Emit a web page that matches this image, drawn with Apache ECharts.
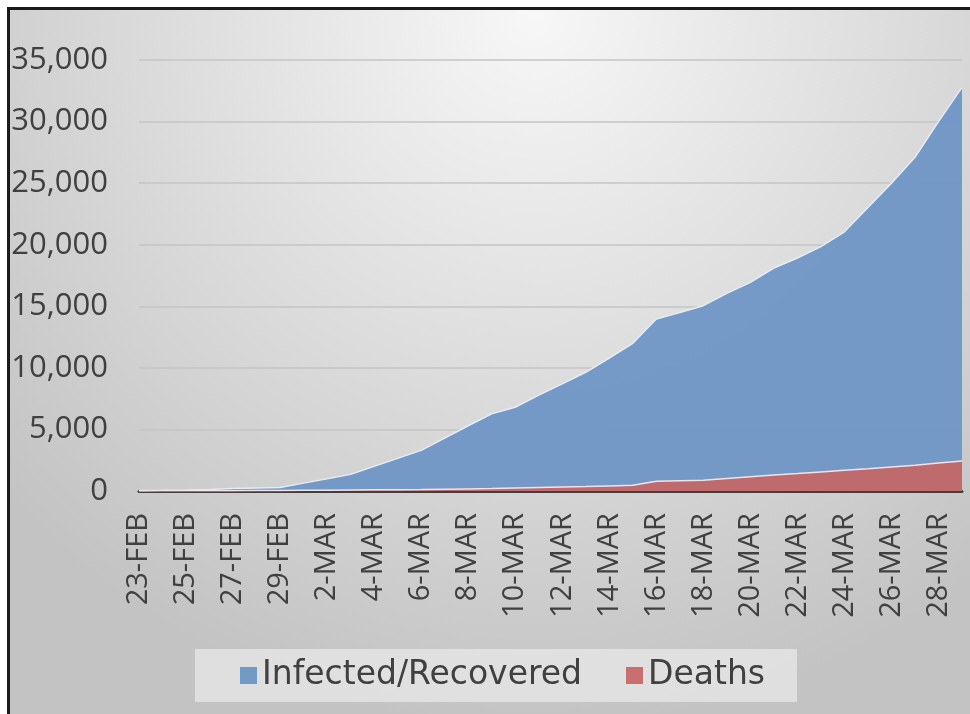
<!DOCTYPE html>
<html>
<head>
<meta charset="utf-8">
<script src="https://cdn.jsdelivr.net/npm/echarts@6/dist/echarts.min.js"></script>
<style>
  html, body { margin: 0; padding: 0; background: #fff; overflow: hidden; }
  #chartArea { position: absolute; left: 0; top: 0; width: 970px; height: 714px; }
  .mask {
    position: absolute; left: 0; top: 0; width: 990px; height: 730px;
    border-left: 7px solid #fff; border-top: 7px solid #fff;
    pointer-events: none;
  }
  .edge {
    position: absolute; left: 7px; top: 7px; width: 990px; height: 730px;
    border-left: 3px solid #1a1a1a; border-top: 3px solid #1a1a1a;
    pointer-events: none;
  }
</style>
</head>
<body>
<div id="chartArea"></div>
<div class="mask"></div>
<div class="edge"></div>
<script>
// dates (every day, labels shown every other day)
const dateList = [
  "23-FEB", "24-FEB", "25-FEB", "26-FEB", "27-FEB", "28-FEB", "29-FEB",
  "1-MAR", "2-MAR", "3-MAR", "4-MAR", "5-MAR", "6-MAR", "7-MAR", "8-MAR",
  "9-MAR", "10-MAR", "11-MAR", "12-MAR", "13-MAR", "14-MAR", "15-MAR",
  "16-MAR", "17-MAR", "18-MAR", "19-MAR", "20-MAR", "21-MAR", "22-MAR",
  "23-MAR", "24-MAR", "25-MAR", "26-MAR", "27-MAR", "28-MAR", "29-MAR"
];
// infected / recovered
const infectedList = [
  40, 60, 90, 130, 200, 240, 280,
  640, 990, 1350, 2000, 2650, 3300, 4300, 5300,
  6270, 6800, 7780, 8700, 9640, 10800, 11990,
  13960, 14500, 15050, 16050, 16940, 18110, 18920,
  19840, 21050, 23020, 25000, 27100, 30000, 32780
];
// deaths
const deathList = [
  8, 12, 16, 19, 26, 34, 43,
  54, 66, 77, 92, 107, 124, 145, 170,
  200, 240, 280, 320, 360, 410, 460,
  785, 830, 870, 1020, 1160, 1300, 1420,
  1550, 1680, 1810, 1950, 2100, 2270, 2430
];

const fontFamily = "'Open Sans', 'DejaVu Sans', sans-serif";
const chartLine = echarts.init(document.getElementById("chartArea"));
chartLine.setOption({
  animation: false,
  backgroundColor: {
    type: "radial", x: 0.55, y: 0.02, r: 1.0,
    colorStops: [
      { offset: 0, color: "#f7f7f7" },
      { offset: 1, color: "#c3c3c3" }
    ]
  },
  legend: {
    left: 195,
    top: 649,
    data: ["Infected/Recovered", "Deaths"],
    icon: "rect",
    itemWidth: 17,
    itemHeight: 17,
    itemGap: 44,
    padding: [10, 32, 10, 45],
    backgroundColor: "rgba(232,232,232,0.75)",
    textStyle: { fontSize: 33, color: "#404040", fontFamily: "'DejaVu Sans', sans-serif" }
  },
  grid: { left: 139, right: 8, top: 60, bottom: 223 },
  xAxis: {
    type: "category",
    boundaryGap: false,
    data: dateList,
    axisLine: { lineStyle: { color: "#404040", width: 3 } },
    axisTick: { show: false },
    axisLabel: {
      interval: 1,
      rotate: 90,
      margin: 22,
      fontSize: 29,
      color: "#404040",
      fontFamily: fontFamily
    }
  },
  yAxis: {
    type: "value",
    min: 0,
    max: 35000,
    interval: 5000,
    axisLine: { show: false },
    axisTick: { show: false },
    splitLine: { lineStyle: { color: "#c4c4c4", width: 1.5 } },
    axisLabel: {
      margin: 31,
      fontSize: 31,
      color: "#404040",
      fontFamily: fontFamily,
      formatter: function(v) { return v.toLocaleString("en-US"); }
    }
  },
  series: [
    {
      name: "Infected/Recovered",
      type: "line",
      data: infectedList,
      symbol: "none",
      z: 2,
      itemStyle: { color: "#7399c6" },
      lineStyle: { color: "#e4ecf7", width: 1.5 },
      areaStyle: { color: "#6f96c5", opacity: 0.95 }
    },
    {
      name: "Deaths",
      type: "line",
      data: deathList,
      symbol: "none",
      z: 3,
      itemStyle: { color: "#c96f6f" },
      lineStyle: { color: "#f6e2e2", width: 1.5 },
      areaStyle: { color: "#bf6a6c", opacity: 1 }
    }
  ]
});
</script>
</body>
</html>
